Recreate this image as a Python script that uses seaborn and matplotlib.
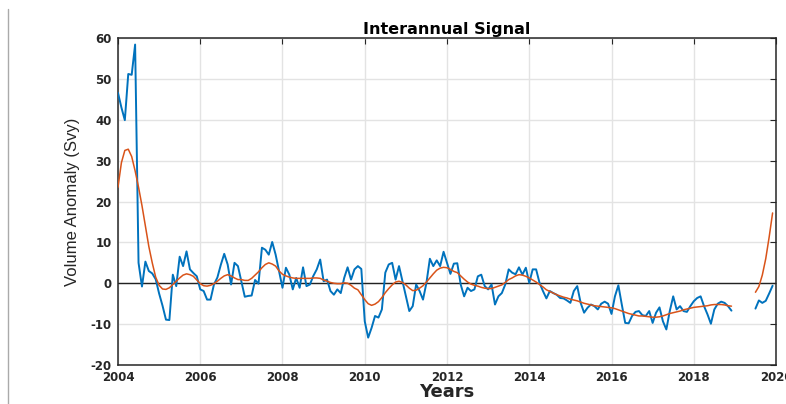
import numpy as np
import pandas as pd
import matplotlib
matplotlib.use("Agg")
import matplotlib.pyplot as plt
from matplotlib.lines import Line2D
import seaborn as sns

# Monthly interannual volume anomaly (Svy), Jan 2004 - Dec 2018
signal_main = [
    46.6, 43.0, 39.9, 51.2, 51.0, 58.4, 5.0, -0.8, 5.3, 3.0, 2.4, 1.0,        # 2004
    -2.5, -5.5, -8.9, -9.0, 2.1, -0.7, 6.5, 4.2, 7.8, 3.4, 2.5, 1.7,          # 2005
    -1.5, -1.9, -4.0, -4.0, -0.3, 1.4, 4.5, 7.2, 4.6, -0.3, 5.0, 4.2,         # 2006
    0.5, -3.3, -3.1, -3.0, 0.8, -0.1, 8.7, 8.2, 7.0, 10.1, 7.0, 3.0,          # 2007
    -1.1, 3.8, 2.1, -1.5, 1.3, -1.1, 3.9, -0.7, -0.3, 1.8, 3.4, 5.8,         # 2008
    0.5, 0.9, -1.9, -2.8, -1.5, -2.4, 1.3, 3.9, 0.9, 3.4, 4.2, 3.5,          # 2009
    -9.3, -13.3, -10.9, -8.0, -8.4, -6.4, 2.6, 4.6, 5.0, 0.9, 4.2, 0.5,       # 2010
    -3.2, -6.8, -5.6, -0.3, -1.9, -4.0, 0.1, 6.0, 4.2, 5.6, 4.2, 7.7,         # 2011
    5.0, 2.3, 4.8, 4.9, -0.3, -3.2, -1.1, -1.9, -1.5, 1.7, 2.1, -0.7,         # 2012
    -1.5, -0.3, -5.2, -3.2, -2.4, -0.3, 3.4, 2.6, 2.2, 3.9, 2.1, 3.8,         # 2013
    0.1, 3.4, 3.4, 0.1, -1.9, -3.7, -1.9, -2.4, -2.8, -3.6, -3.7, -4.2,       # 2014
    -4.8, -1.9, -0.7, -4.8, -7.2, -6.0, -5.2, -5.6, -6.4, -5.0, -4.5, -5.0,   # 2015
    -7.5, -3.2, -0.5, -5.2, -9.7, -9.8, -8.0, -7.0, -6.8, -7.8, -8.0, -6.8,   # 2016
    -9.7, -7.2, -5.9, -9.3, -11.3, -6.8, -3.2, -6.4, -5.6, -6.8, -7.0, -5.6,  # 2017
    -4.4, -3.6, -3.2, -5.6, -7.6, -9.9, -6.4, -5.0, -4.5, -4.8, -5.6, -6.7,   # 2018
]

# Smoothed (low-pass) curve over the same months
trend_main = [
    23.5, 29.5, 32.5, 32.8, 31.0, 27.5, 23.5, 19.0, 14.0, 9.0, 5.0, 1.5,      # 2004
    -0.5, -1.4, -1.5, -1.1, -0.3, 0.5, 1.3, 2.0, 2.3, 2.1, 1.7, 0.8,         # 2005
    -0.1, -0.6, -0.7, -0.5, -0.1, 0.5, 1.2, 1.8, 2.1, 1.8, 1.3, 0.9,         # 2006
    0.9, 0.7, 0.7, 1.2, 2.0, 2.8, 3.8, 4.6, 5.0, 4.7, 4.2, 3.0,              # 2007
    2.2, 1.8, 1.5, 1.3, 1.2, 1.2, 1.2, 1.2, 1.2, 1.3, 1.3, 1.2,              # 2008
    0.8, 0.5, 0.2, 0.0, -0.1, -0.1, 0.1, 0.0, -0.5, -1.2, -1.6, -2.8,        # 2009
    -4.0, -5.0, -5.4, -5.1, -4.5, -3.5, -2.3, -1.3, -0.4, 0.3, 0.5, 0.2,     # 2010
    -0.4, -1.2, -1.8, -1.7, -1.2, -0.6, 0.3, 1.3, 2.3, 3.2, 3.7, 3.9,        # 2011
    3.8, 3.4, 2.9, 2.6, 1.8, 1.0, 0.3, -0.2, -0.5, -0.7, -1.0, -1.2,         # 2012
    -1.3, -1.3, -1.0, -0.7, -0.4, 0.2, 0.9, 1.3, 1.8, 2.1, 2.0, 1.7,         # 2013
    1.3, 0.8, 0.3, -0.3, -0.9, -1.6, -2.0, -2.4, -2.8, -3.1, -3.4, -3.6,     # 2014
    -3.9, -4.1, -4.3, -4.6, -4.9, -5.1, -5.3, -5.5, -5.6, -5.7, -5.8, -5.9,  # 2015
    -6.0, -6.2, -6.5, -6.8, -7.1, -7.4, -7.6, -7.8, -8.0, -8.0, -8.1, -8.2,  # 2016
    -8.3, -8.3, -8.2, -8.0, -7.7, -7.4, -7.2, -7.0, -6.8, -6.5, -6.3, -6.1,  # 2017
    -5.9, -5.8, -5.7, -5.6, -5.5, -5.3, -5.2, -5.2, -5.2, -5.3, -5.5, -5.6,  # 2018
]

# Second record, Jul - Dec 2019
signal_2019 = [-6.2, -4.2, -4.8, -4.3, -2.5, -0.6]
trend_2019 = [-2.2, -0.8, 2.0, 6.0, 11.3, 17.2]

start_main, start_2019 = 2004.0, 2019.5
x_ticks = [2004, 2006, 2008, 2010, 2012, 2014, 2016, 2018, 2020]
y_ticks = [-20, -10, 0, 10, 20, 30, 40, 50, 60]

t_main = start_main + np.arange(len(signal_main)) / 12.0
t_2019 = start_2019 + np.arange(len(signal_2019)) / 12.0

df = pd.concat([
    pd.DataFrame({"t": t_main, "value": signal_main, "series": "signal", "segment": 0}),
    pd.DataFrame({"t": t_2019, "value": signal_2019, "series": "signal", "segment": 1}),
    pd.DataFrame({"t": t_main, "value": trend_main, "series": "trend", "segment": 0}),
    pd.DataFrame({"t": t_2019, "value": trend_2019, "series": "trend", "segment": 1}),
], ignore_index=True)

sns.set_style("white")
plt.rcParams["font.family"] = ["DejaVu Sans"]

ink = "#262626"
blue = "#0072BD"
orange = "#D95319"

fig = plt.figure(figsize=(7.86, 4.04), dpi=100)
ax = fig.add_axes([0.1501, 0.0965, 0.8372, 0.8094])

ax.grid(True, color="#e3e3e3", linewidth=1.0, zorder=0)
ax.axhline(0, color="#222222", linewidth=1.0, zorder=2)

sns.lineplot(data=df[df.series == "signal"], x="t", y="value", units="segment",
             estimator=None, color=blue, linewidth=1.4, ax=ax, zorder=3)
sns.lineplot(data=df[df.series == "trend"], x="t", y="value", units="segment",
             estimator=None, color=orange, linewidth=1.1, ax=ax, zorder=4)

ax.set_xlim(2004, 2020)
ax.set_ylim(-20, 60)
ax.set_xticks(x_ticks)
ax.set_yticks(y_ticks)
ax.set_xticklabels([str(v) for v in x_ticks])
ax.set_yticklabels([str(v) for v in y_ticks])

ax.tick_params(axis="both", which="both", direction="in", length=4.3, width=0.8,
               color=ink, labelcolor=ink, labelsize=8.5, pad=4.5,
               top=True, right=True)
for lab in ax.get_xticklabels() + ax.get_yticklabels():
    lab.set_fontweight("bold")

for sp in ax.spines.values():
    sp.set_visible(True)
    sp.set_color(ink)
    sp.set_linewidth(1.1)

ax.set_title("Interannual Signal", fontsize=11.5, fontweight="bold", color="black", pad=3)
ax.set_xlabel("Years", fontsize=13, fontweight="bold", color=ink)
ax.xaxis.set_label_coords(0.5, -0.056)
ax.set_ylabel("Volume Anomaly (Svy)", fontsize=12, color=ink, family="Liberation Sans")
ax.yaxis.set_label_coords(-0.057, 0.5)

# thin divider line at the left edge of the figure
fig.add_artist(Line2D([8.0 / 786, 8.0 / 786], [0.0, 1 - 9.0 / 404],
                      transform=fig.transFigure, color="#aaaaaa", linewidth=1.0))

fig.savefig("out.png", dpi=100)
